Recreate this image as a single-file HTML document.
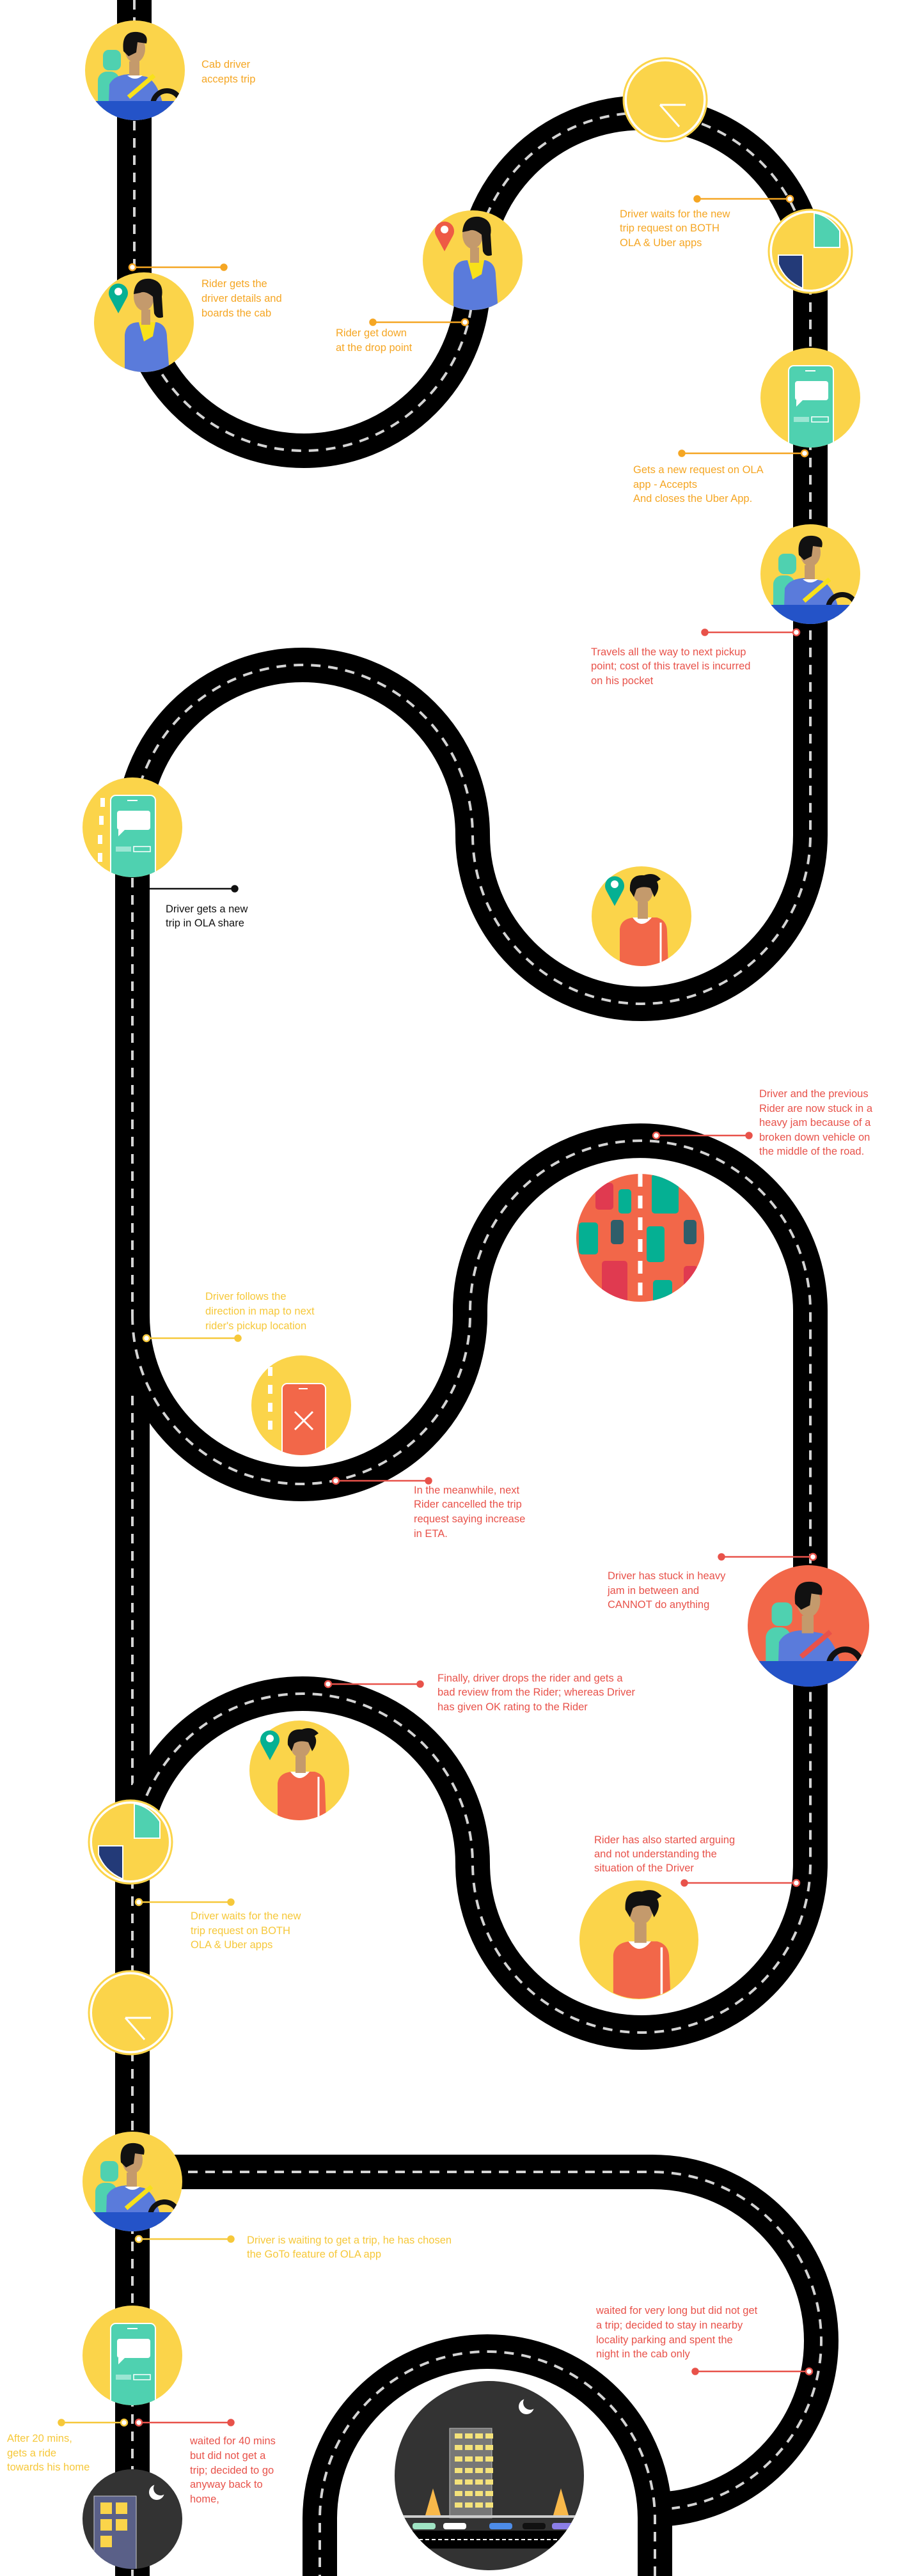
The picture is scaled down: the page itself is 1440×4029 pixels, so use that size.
<!DOCTYPE html>
<html><head><meta charset="utf-8"><title>Cab driver journey</title>
<style>
html,body{margin:0;padding:0;background:#fff;}
svg{display:block;}
text{font-family:"Liberation Sans",sans-serif;font-size:16.5px;}
.o{fill:#F5A623;} .y{fill:#F6C83A;} .r{fill:#E8524A;} .k{fill:#111;}
</style></head>
<body>
<svg width="1440" height="4029" viewBox="0 0 1440 4029" xmlns="http://www.w3.org/2000/svg">
<defs>
 <clipPath id="c78"><circle r="78"/></clipPath>
 <clipPath id="c95"><circle r="95"/></clipPath>
 <clipPath id="c100"><circle r="100"/></clipPath>
 <clipPath id="c148"><circle r="148"/></clipPath>
 <g id="driver">
  <g clip-path="url(#c78)">
   <rect x="-50" y="-32" width="28" height="32" rx="9" fill="#4FD1B0"/>
   <rect x="-58" y="2" width="34" height="80" rx="14" fill="#4FD1B0"/>
   <path d="M-42 80 L-40 22 Q-32 6 -6 6 L18 10 Q42 22 48 80 Z" fill="#5A7BDB"/>
   <rect x="-9" y="-14" width="16" height="24" fill="#C49A6C"/>
   <path d="M-12 8 Q0 18 12 8 Z" fill="#fff"/>
   <ellipse cx="0" cy="-34" rx="16" ry="22" fill="#C49A6C"/>
   <path d="M-18 -30 Q-22 -62 4 -60 Q22 -58 18 -42 L4 -44 L2 -28 L-10 -22 Z" fill="#111"/>
   <path d="M-10 42 L30 8" stroke="#F8E11A" stroke-width="7"/>
   <circle cx="50" cy="54" r="22" fill="none" stroke="#111" stroke-width="8"/>
   <rect x="-90" y="48" width="180" height="40" fill="#2453C8"/>
  </g>
 </g>
 <g id="driverbody">
  <rect x="-50" y="-32" width="28" height="32" rx="9" fill="#4FD1B0"/>
  <rect x="-58" y="2" width="34" height="80" rx="14" fill="#4FD1B0"/>
  <path d="M-42 80 L-40 22 Q-32 6 -6 6 L18 10 Q42 22 48 80 Z" fill="#5A7BDB"/>
  <rect x="-9" y="-14" width="16" height="24" fill="#C49A6C"/>
  <ellipse cx="0" cy="-34" rx="16" ry="22" fill="#C49A6C"/>
  <path d="M-18 -30 Q-22 -62 4 -60 Q22 -58 18 -42 L4 -44 L2 -28 L-10 -22 Z" fill="#111"/>
  <path d="M-10 42 L30 8" stroke="#E8524A" stroke-width="7"/>
  <circle cx="50" cy="54" r="22" fill="none" stroke="#111" stroke-width="8"/>
 </g>
 <g id="riderblue">
  <g clip-path="url(#c78)">
   <path d="M-30 80 L-30 20 Q-28 0 -8 0 L20 0 Q36 4 36 24 L40 80 Z" fill="#5A7BDB"/>
   <path d="M-8 0 L0 30 L14 22 L18 0 Z" fill="#F8E11A"/>
   <rect x="-4" y="-20" width="14" height="24" fill="#C49A6C"/>
   <ellipse cx="0" cy="-40" rx="16" ry="22" fill="#C49A6C"/>
   <path d="M-16 -44 Q-14 -70 10 -68 Q32 -64 28 -40 L30 -8 Q20 -4 16 -14 L14 -40 Q2 -50 -6 -46 Z" fill="#111"/>
  </g>
 </g>
 <g id="riderred">
  <g clip-path="url(#c78)">
   <path d="M-34 80 L-34 20 Q-32 4 -12 2 L24 2 Q40 6 40 24 L42 80 Z" fill="#F26749"/>
   <path d="M-14 2 Q0 22 16 2 Z" fill="#fff"/>
   <line x1="30" y1="10" x2="30" y2="78" stroke="#fff" stroke-width="3"/>
   <rect x="-6" y="-22" width="16" height="26" fill="#C49A6C"/>
   <ellipse cx="2" cy="-40" rx="16" ry="20" fill="#C49A6C"/>
   <path d="M-18 -40 Q-20 -66 4 -64 Q20 -70 30 -58 L24 -54 Q30 -44 20 -30 L14 -44 Q0 -48 -8 -42 L-12 -30 Z" fill="#111"/>
  </g>
 </g>
 <g id="phone">
  <g clip-path="url(#c78)">
   <rect x="-34" y="-50" width="70" height="140" rx="8" fill="#4FD1B0" stroke="#fff" stroke-width="2"/>
   <rect x="-24" y="-26" width="52" height="30" rx="4" fill="#fff"/>
   <path d="M-22 4 L-22 14 L-12 4 Z" fill="#fff"/>
   <rect x="-26" y="30" width="24" height="8" fill="#9CE6D3"/>
   <rect x="2" y="30" width="26" height="8" fill="none" stroke="#fff" stroke-width="1.5"/>
   <line x1="-8" y1="-42" x2="8" y2="-42" stroke="#fff" stroke-width="2"/>
  </g>
 </g>
 <g id="pin"><path d="M0 26 L-13 2 A15 15 0 1 1 13 2 Z"/><circle cy="-8" r="6" fill="#fff"/></g>
 <g id="clock">
  <circle r="62" fill="#FBD44A" stroke="#fff" stroke-width="4"/>
  <circle r="65" fill="none" stroke="#FBD44A" stroke-width="3"/>
  <path d="M-8 8 L32 8 M-8 8 L22 42" stroke="#fff" stroke-width="3" fill="none"/>
 </g>
 <g id="waits">
  <circle r="62" fill="#FBD44A" stroke="#fff" stroke-width="4"/>
  <circle r="65" fill="none" stroke="#FBD44A" stroke-width="3"/>
  <path d="M6 -60 L6 -6 L46 -6 L46 -32 Q30 -56 6 -60 Z" fill="#4FD1B0" stroke="#fff" stroke-width="2"/>
  <path d="M-50 6 L-12 6 L-12 58 Q-40 46 -50 20 Z" fill="#233A78" stroke="#fff" stroke-width="2"/>
 </g>
</defs>

<!-- ROADS -->
<g fill="none">
 <path d="M210 0 V440 A265 265 0 0 0 740 440 A263.5 263.5 0 0 1 1267 440 V1306 A264 264 0 0 1 739 1306 A266 266 0 0 0 207 1306 V4029" stroke="#000" stroke-width="54"/>
 <path d="M210 0 V440 A265 265 0 0 0 740 440 A263.5 263.5 0 0 1 1267 440 V1306 A264 264 0 0 1 739 1306 A266 266 0 0 0 207 1306 V4029" stroke="#d4d4d4" stroke-width="4" stroke-dasharray="15 12"/>
 <path d="M207 2057 A264 264 0 0 0 735 2057 V2050 A266 266 0 0 1 1267 2050 V2915 A264 264 0 0 1 739 2915 A266 266 0 0 0 207 2915" stroke="#000" stroke-width="54"/>
 <path d="M207 2057 A264 264 0 0 0 735 2057 V2050 A266 266 0 0 1 1267 2050 V2915 A264 264 0 0 1 739 2915 A266 266 0 0 0 207 2915" stroke="#d4d4d4" stroke-width="4" stroke-dasharray="15 12"/>
 <path d="M207 3397 H1020 A264 264 0 0 1 1020 3925" stroke="#000" stroke-width="54"/>
 <path d="M240 3397 H1020 A264 264 0 0 1 1020 3925" stroke="#d4d4d4" stroke-width="4" stroke-dasharray="15 12"/>
 <path d="M1024 4029 V3940 A262 262 0 0 0 500 3940 V4029" stroke="#000" stroke-width="54"/>
 <path d="M1024 4029 V3940 A262 262 0 0 0 500 3940 V4029" stroke="#d4d4d4" stroke-width="4" stroke-dasharray="15 12"/>
</g>

<!-- ILLUSTRATIONS -->
<g transform="translate(211 110)"><circle r="78" fill="#FBD44A"/><use href="#driver"/></g>
<g transform="translate(225 504)"><circle r="78" fill="#FBD44A"/><use href="#riderblue"/><use href="#pin" x="-40" y="-40" fill="#05B093"/></g>
<g transform="translate(739 407)"><circle r="78" fill="#FBD44A"/><use href="#riderblue"/><use href="#pin" x="-44" y="-40" fill="#EE5A45"/></g>
<g transform="translate(1040 156)"><use href="#clock"/></g>
<g transform="translate(1267 393)"><use href="#waits"/></g>
<g transform="translate(1267 622)"><circle r="78" fill="#FBD44A"/><use href="#phone"/></g>
<g transform="translate(1267 898)"><circle r="78" fill="#FBD44A"/><use href="#driver"/></g>
<g transform="translate(207 1294)"><circle r="78" fill="#FBD44A"/><use href="#phone"/><g fill="#fff"><rect x="-50" y="-46" width="7" height="14"/><rect x="-52" y="-18" width="7" height="14"/><rect x="-54" y="12" width="7" height="14"/><rect x="-54" y="40" width="7" height="14"/></g></g>
<g transform="translate(1003 1433)"><circle r="78" fill="#FBD44A"/><use href="#riderred"/><use href="#pin" x="-42" y="-42" fill="#05B093"/></g>
<g transform="translate(1001 1936)">
 <circle r="100" fill="#F26749"/>
 <g clip-path="url(#c100)">
  <rect x="-70" y="-86" width="28" height="42" rx="5" fill="#E03A50"/>
  <rect x="-34" y="-76" width="20" height="38" rx="5" fill="#05B093"/>
  <rect x="18" y="-100" width="42" height="62" rx="5" fill="#05B093"/>
  <rect x="-96" y="-24" width="30" height="50" rx="5" fill="#05B093"/>
  <rect x="-46" y="-28" width="20" height="38" rx="5" fill="#2E5E6A"/>
  <rect x="10" y="-18" width="28" height="56" rx="5" fill="#05B093"/>
  <rect x="68" y="-28" width="20" height="38" rx="5" fill="#2E5E6A"/>
  <rect x="-60" y="36" width="40" height="70" rx="5" fill="#E03A50"/>
  <rect x="20" y="66" width="30" height="40" rx="5" fill="#05B093"/>
  <rect x="68" y="44" width="22" height="40" rx="5" fill="#E03A50"/>
  <line x1="0" y1="-100" x2="0" y2="100" stroke="#fff" stroke-width="7" stroke-dasharray="20 14"/>
 </g>
</g>
<g transform="translate(471 2198)">
 <circle r="78" fill="#FBD44A"/>
 <g clip-path="url(#c78)">
  <rect x="-30" y="-34" width="68" height="120" rx="8" fill="#F26749" stroke="#fff" stroke-width="2"/>
  <path d="M-10 10 L18 38 M18 10 L-10 38" stroke="#fff" stroke-width="3"/>
  <line x1="-4" y1="-26" x2="10" y2="-26" stroke="#fff" stroke-width="2"/>
  <g fill="#fff"><rect x="-52" y="-60" width="7" height="14"/><rect x="-52" y="-32" width="7" height="14"/><rect x="-52" y="-4" width="7" height="14"/><rect x="-52" y="24" width="7" height="14"/></g>
 </g>
</g>
<g transform="translate(1264 2543)">
 <circle r="95" fill="#F26749"/>
 <g clip-path="url(#c95)"><g transform="scale(1.15)"><use href="#driverbody"/></g><rect x="-100" y="55" width="200" height="50" fill="#2453C8"/></g>
</g>
<g transform="translate(468 2769)"><circle r="78" fill="#FBD44A"/><use href="#riderred"/><use href="#pin" x="-46" y="-42" fill="#05B093"/></g>
<g transform="translate(204 2881)"><use href="#waits"/></g>
<g transform="translate(999 3034)"><circle r="93" fill="#FBD44A"/><g transform="scale(1.18)"><use href="#riderred"/></g></g>
<g transform="translate(204 3148)"><use href="#clock"/></g>
<g transform="translate(207 3412)"><circle r="78" fill="#FBD44A"/><use href="#driver"/></g>
<g transform="translate(207 3684)"><circle r="78" fill="#FBD44A"/><use href="#phone"/></g>
<g transform="translate(207 3940)">
 <circle r="78" fill="#333"/>
 <g clip-path="url(#c78)">
  <rect x="-60" y="-36" width="66" height="120" fill="#5A6088" stroke="#ccc" stroke-width="1"/>
  <g fill="#FBD44A"><rect x="-50" y="-26" width="18" height="18"/><rect x="-26" y="-26" width="18" height="18"/><rect x="-50" y="0" width="18" height="18"/><rect x="-26" y="0" width="18" height="18"/><rect x="-50" y="26" width="18" height="18"/></g>
 </g>
 <circle cx="38" cy="-42" r="12" fill="#fff"/><circle cx="44" cy="-48" r="11" fill="#333"/>
</g>
<g transform="translate(765 3872)">
 <circle r="148" fill="#333"/>
 <g clip-path="url(#c148)">
  <rect x="-62" y="-74" width="66" height="140" fill="#777" stroke="#bbb" stroke-width="1"/>
  <g fill="#F4E27A">
   <rect x="-54" y="-66" width="12" height="8"/><rect x="-38" y="-66" width="12" height="8"/><rect x="-22" y="-66" width="12" height="8"/><rect x="-6" y="-66" width="12" height="8"/>
   <rect x="-54" y="-48" width="12" height="8"/><rect x="-38" y="-48" width="12" height="8"/><rect x="-22" y="-48" width="12" height="8"/><rect x="-6" y="-48" width="12" height="8"/>
   <rect x="-54" y="-30" width="12" height="8"/><rect x="-38" y="-30" width="12" height="8"/><rect x="-22" y="-30" width="12" height="8"/><rect x="-6" y="-30" width="12" height="8"/>
   <rect x="-54" y="-12" width="12" height="8"/><rect x="-38" y="-12" width="12" height="8"/><rect x="-22" y="-12" width="12" height="8"/><rect x="-6" y="-12" width="12" height="8"/>
   <rect x="-54" y="6" width="12" height="8"/><rect x="-38" y="6" width="12" height="8"/><rect x="-22" y="6" width="12" height="8"/><rect x="-6" y="6" width="12" height="8"/>
   <rect x="-54" y="24" width="12" height="8"/><rect x="-38" y="24" width="12" height="8"/><rect x="-22" y="24" width="12" height="8"/><rect x="-6" y="24" width="12" height="8"/>
   <rect x="-54" y="42" width="12" height="8"/><rect x="-38" y="42" width="12" height="8"/><rect x="-22" y="42" width="12" height="8"/><rect x="-6" y="42" width="12" height="8"/>
  </g>
  <path d="M-100 62 L-88 20 L-76 62 Z M100 62 L112 20 L124 62 Z" fill="#F8B84A"/>
  <rect x="-160" y="62" width="320" height="4" fill="#ccc"/>
  <rect x="-160" y="86" width="320" height="28" fill="#000"/>
  <line x1="-120" y1="100" x2="160" y2="100" stroke="#fff" stroke-width="2" stroke-dasharray="6 4"/>
  <rect x="-120" y="74" width="36" height="10" rx="4" fill="#9FE3C3"/>
  <rect x="-72" y="74" width="36" height="10" rx="4" fill="#fff"/>
  <rect x="0" y="74" width="36" height="10" rx="4" fill="#4D8CE8"/>
  <rect x="52" y="74" width="36" height="10" rx="4" fill="#111"/>
  <rect x="98" y="74" width="36" height="10" rx="4" fill="#8B7EE8"/>
 </g>
 <circle cx="58" cy="-108" r="12" fill="#fff"/><circle cx="64" cy="-114" r="11" fill="#333"/>
</g>

<!-- CONNECTORS: ring = open circle, dot = filled -->
<g stroke-width="2.5">
 <g stroke="#F5A623" fill="#F5A623">
  <line x1="207" y1="418" x2="350" y2="418"/><circle cx="207" cy="418" r="5" fill="#fff"/><circle cx="350" cy="418" r="4.5"/>
  <line x1="583" y1="504" x2="727" y2="504"/><circle cx="583" cy="504" r="4.5"/><circle cx="727" cy="504" r="5" fill="#fff"/>
  <line x1="1090" y1="311" x2="1235" y2="311"/><circle cx="1090" cy="311" r="4.5"/><circle cx="1235" cy="311" r="5" fill="#fff"/>
  <line x1="1066" y1="709" x2="1258" y2="709"/><circle cx="1066" cy="709" r="4.5"/><circle cx="1258" cy="709" r="5" fill="#fff"/>
 </g>
 <g stroke="#E8524A" fill="#E8524A">
  <line x1="1102" y1="989" x2="1245" y2="989"/><circle cx="1102" cy="989" r="4.5"/><circle cx="1245" cy="989" r="5" fill="#fff"/>
  <line x1="1026" y1="1776" x2="1171" y2="1776"/><circle cx="1026" cy="1776" r="5" fill="#fff"/><circle cx="1171" cy="1776" r="4.5"/>
  <line x1="525" y1="2316" x2="670" y2="2316"/><circle cx="525" cy="2316" r="5" fill="#fff"/><circle cx="670" cy="2316" r="4.5"/>
  <line x1="1128" y1="2435" x2="1271" y2="2435"/><circle cx="1128" cy="2435" r="4.5"/><circle cx="1271" cy="2435" r="5" fill="#fff"/>
  <line x1="513" y1="2634" x2="657" y2="2634"/><circle cx="513" cy="2634" r="5" fill="#fff"/><circle cx="657" cy="2634" r="4.5"/>
  <line x1="1070" y1="2945" x2="1245" y2="2945"/><circle cx="1070" cy="2945" r="4.5"/><circle cx="1245" cy="2945" r="5" fill="#fff"/>
  <line x1="1087" y1="3709" x2="1265" y2="3709"/><circle cx="1087" cy="3709" r="4.5"/><circle cx="1265" cy="3709" r="5" fill="#fff"/>
  <line x1="217" y1="3789" x2="361" y2="3789"/><circle cx="217" cy="3789" r="5" fill="#fff"/><circle cx="361" cy="3789" r="4.5"/>
 </g>
 <g stroke="#F6C83A" fill="#F6C83A">
  <line x1="229" y1="2093" x2="372" y2="2093"/><circle cx="229" cy="2093" r="5" fill="#fff"/><circle cx="372" cy="2093" r="4.5"/>
  <line x1="217" y1="2975" x2="361" y2="2975"/><circle cx="217" cy="2975" r="5" fill="#fff"/><circle cx="361" cy="2975" r="4.5"/>
  <line x1="217" y1="3502" x2="361" y2="3502"/><circle cx="217" cy="3502" r="5" fill="#fff"/><circle cx="361" cy="3502" r="4.5"/>
  <line x1="96" y1="3789" x2="194" y2="3789"/><circle cx="96" cy="3789" r="4.5"/><circle cx="194" cy="3789" r="5" fill="#fff"/>
 </g>
 <g stroke="#111" fill="#111">
  <line x1="234" y1="1390" x2="367" y2="1390"/><circle cx="367" cy="1390" r="4.5"/>
 </g>
</g>

<!-- LABELS -->
<text class="o"><tspan x="315" y="106">Cab driver</tspan><tspan x="315" y="129">accepts trip</tspan></text>
<text class="o"><tspan x="315" y="449">Rider gets the</tspan><tspan x="315" y="472">driver details and</tspan><tspan x="315" y="495">boards the cab</tspan></text>
<text class="o"><tspan x="525" y="526">Rider get down</tspan><tspan x="525" y="549">at the drop point</tspan></text>
<text class="o"><tspan x="969" y="340">Driver waits for the new</tspan><tspan x="969" y="362">trip request on BOTH</tspan><tspan x="969" y="385">OLA &amp; Uber apps</tspan></text>
<text class="o"><tspan x="990" y="740">Gets a new request on OLA</tspan><tspan x="990" y="763">app - Accepts</tspan><tspan x="990" y="785">And closes the Uber App.</tspan></text>
<text class="r"><tspan x="924" y="1025">Travels all the way to next pickup</tspan><tspan x="924" y="1047">point; cost of this travel is incurred</tspan><tspan x="924" y="1070">on his pocket</tspan></text>
<text class="k"><tspan x="259" y="1427">Driver gets a new</tspan><tspan x="259" y="1449">trip in OLA share</tspan></text>
<text class="r"><tspan x="1187" y="1716">Driver and the previous</tspan><tspan x="1187" y="1739">Rider are now stuck in a</tspan><tspan x="1187" y="1761">heavy jam because of a</tspan><tspan x="1187" y="1784">broken down vehicle on</tspan><tspan x="1187" y="1806">the middle of the road.</tspan></text>
<text class="y"><tspan x="321" y="2033">Driver follows the</tspan><tspan x="321" y="2056">direction in map to next</tspan><tspan x="321" y="2079">rider's pickup location</tspan></text>
<text class="r"><tspan x="647" y="2336">In the meanwhile, next</tspan><tspan x="647" y="2358">Rider cancelled the trip</tspan><tspan x="647" y="2381">request saying increase</tspan><tspan x="647" y="2404">in ETA.</tspan></text>
<text class="r"><tspan x="950" y="2470">Driver  has stuck in heavy</tspan><tspan x="950" y="2493">jam in between and</tspan><tspan x="950" y="2515">CANNOT do anything</tspan></text>
<text class="r"><tspan x="684" y="2630">Finally, driver drops the rider and gets a</tspan><tspan x="684" y="2652">bad review from the Rider; whereas Driver</tspan><tspan x="684" y="2675">has given OK rating to the Rider</tspan></text>
<text class="r"><tspan x="929" y="2883">Rider has also started arguing</tspan><tspan x="929" y="2905">and not understanding the</tspan><tspan x="929" y="2927">situation of the Driver</tspan></text>
<text class="y"><tspan x="298" y="3002">Driver waits for the new</tspan><tspan x="298" y="3025">trip request on BOTH</tspan><tspan x="298" y="3047">OLA &amp; Uber apps</tspan></text>
<text class="y"><tspan x="386" y="3509">Driver  is waiting to get a trip, he has chosen</tspan><tspan x="386" y="3531">the GoTo feature of OLA app</tspan></text>
<text class="r"><tspan x="932" y="3619">waited for very long but did not get</tspan><tspan x="932" y="3642">a trip; decided to stay in nearby</tspan><tspan x="932" y="3665">locality parking and spent the</tspan><tspan x="932" y="3687">night in the cab only</tspan></text>
<text class="y"><tspan x="11" y="3819">After 20 mins,</tspan><tspan x="11" y="3842">gets a ride</tspan><tspan x="11" y="3864">towards his home</tspan></text>
<text class="r"><tspan x="297" y="3823">waited for 40 mins</tspan><tspan x="297" y="3846">but did not get a</tspan><tspan x="297" y="3869">trip; decided to go</tspan><tspan x="297" y="3891">anyway back to</tspan><tspan x="297" y="3914">home,</tspan></text>
</svg>
</body></html>
